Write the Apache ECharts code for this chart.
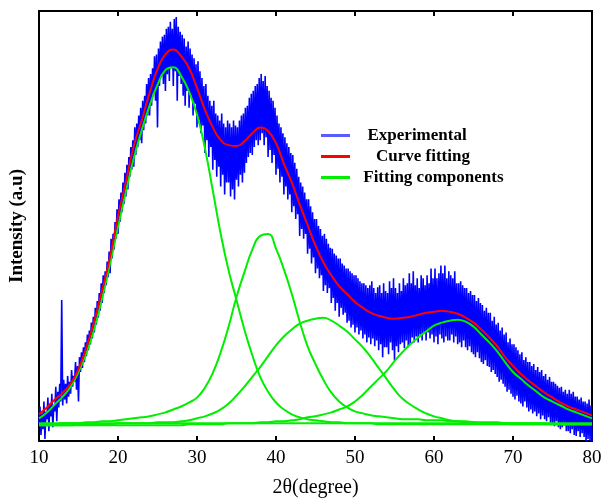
<!DOCTYPE html>
<html>
<head>
<meta charset="utf-8">
<script src="https://cdn.jsdelivr.net/npm/echarts@6/dist/echarts.min.js"></script>
<style>html,body{margin:0;padding:0;background:#fff}#c{width:606px;height:503px}</style>
</head>
<body>
<div id="c"></div>
<script>
// x ticks
const xTicks = [10, 20, 30, 40, 50, 60, 70, 80];
// fitted curves sampled each degree
const curveX = [10,11,12,13,14,15,16,17,18,19,20,21,22,23,24,25,26,27,28,29,30,31,32,33,34,35,36,37,38,39,40,41,42,43,44,45,46,47,48,49,50,51,52,53,54,55,56,57,58,59,60,61,62,63,64,65,66,67,68,69,70,71,72,73,74,75,76,77,78,79,80];
const curveFit = [27,34,42,49,58,73,95,122,153,187,228,263,299,325,353,377,392,397,390,378,358,336,318,305,300,299,304,312,318,314,302,281,262,240,219,198,181,168,157,149,141,135,130,127,125,124,125,126,128,130,131,132,131,129,125,120,113,105,96,85,76,68,61,55,49,44,39,35,32,29,26];
const comp1 = [23,29,37,45,55,70,89,114,145,180,217,253,287,315,340,361,376,379,370,354,331,297,254,210,173,143,113,87,65,50,39,32,27,24,22,21,20,19,19,18,18,18,18,17,17,17,17,17,17,17,17,17,17,17,17,17,17,17,17,17,17,17,17,17,17,17,17,17,17,17,17];
const comp2 = [17,17,17,18,18,18,19,19,20,20,21,22,23,24,25,27,29,32,35,39,44,54,69,90,116,146,171,194,208,210,195,174,149,121,96,78,62,49,40,34,30,28,26,25,24,23,22,22,22,21,21,21,20,20,20,19,19,19,19,18,18,18,18,18,18,17,17,17,17,17,17];
const comp3 = [16,16,16,16,16,17,17,17,17,17,18,18,18,18,18,19,19,19,20,21,23,25,28,32,38,46,55,65,75,86,97,106,113,119,122,124,125,122,117,111,103,95,85,74,63,52,43,37,32,28,25,23,21,20,19,19,18,18,18,18,17,17,17,17,17,17,17,17,17,17,17];
const comp4 = [16,16,16,16,16,16,16,16,16,16,16,16,16,16,16,16,16,16,16,17,17,17,17,17,18,18,18,18,19,19,20,20,21,22,24,25,27,29,32,35,40,47,55,63,71,81,90,98,105,111,117,120,122,123,121,116,108,100,91,80,70,63,56,50,44,40,36,32,29,26,23];
const baseX = [10, 80];
const baseY = [18, 18];
// experimental pattern sampled every 0.125 degree from 10 to 80
const expStart = 10, expStep = 0.125;
const experimental = [
18,35,6,28,12,40,2,30, 22,44,10,38,25,48,14,36, 30,55,20,50,34,58,40,143, 36,62,42,58,38,66,45,60,
48,72,55,66,60,80,52,76, 40,85,70,90,74,95,80,100, 86,108,92,112,98,120,104,126, 110,135,118,142,125,150,132,160,
140,168,150,172,158,182,166,192, 170,205,185,210,194,222,205,235, 210,245,222,252,232,262,240,272, 248,280,255,288,268,298,275,305,
278,318,290,322,298,330,305,338, 302,345,315,350,322,362,330,368, 330,372,340,378,352,390,345,392, 318,398,360,405,370,410,362,412,
355,418,372,420,365,425,378,418, 360,428,375,430,345,420,370,415, 362,412,350,408,340,400,355,405, 338,398,350,392,330,388,342,382,
318,385,325,375,312,368,320,360, 292,362,305,350,288,345,298,340, 275,345,285,332,268,330,278,325, 258,332,270,322,250,318,262,325,
262,322,248,318,255,325,245,320, 265,318,258,325,270,330,262,332, 272,338,282,340,288,348,292,352, 290,355,298,360,305,362,300,368,
305,372,312,365,300,370,308,360, 288,355,295,348,282,345,290,338, 270,330,276,322,262,318,268,312, 250,308,258,302,245,298,250,292,
232,290,238,282,225,276,230,268, 208,262,215,258,205,252,210,245, 190,245,195,238,180,232,186,225, 170,225,175,218,165,215,168,208,
152,210,158,205,150,200,155,196, 140,195,145,190,132,188,140,185, 126,185,135,180,128,178,130,175, 120,175,122,172,115,170,118,168,
110,168,115,165,108,162,112,160, 104,160,108,158,100,155,105,158, 98,162,104,155,96,150,102,156, 92,158,98,150,85,160,95,152,
95,150,88,162,100,155,92,165, 82,155,96,150,90,160,98,152, 100,165,94,158,102,160,95,170, 98,160,105,172,100,158,106,165,
100,155,108,168,102,165,110,158, 102,168,110,160,104,175,108,165, 100,175,106,165,98,170,108,178, 104,170,100,178,106,165,102,172,
102,168,108,165,100,172,106,160, 98,160,100,162,95,158,102,155, 95,155,92,150,96,152,90,148, 88,148,85,142,90,145,84,140,
80,138,78,132,82,135,76,130, 75,130,70,122,72,126,68,118, 65,120,60,112,62,115,58,108, 55,110,50,100,52,104,48,98,
45,98,42,95,46,92,40,88, 38,90,35,82,40,85,34,80, 30,80,32,76,28,78,30,72, 25,75,28,70,22,72,26,66,
22,68,20,62,24,65,18,60, 18,60,15,58,20,56,14,54, 12,55,14,50,16,52,10,48, 10,52,8,48,12,50,6,45,
5,45,10,42,4,44,8,40, 4,40,0,38,2,42,0,36,
0];

const pairs = (xs, ys) => ys.map((v, i) => [xs[i], v]);
const expData = experimental.map((v, i) => [expStart + i * expStep, v]);

const serif = "'Liberation Serif', 'Times New Roman', serif";
const chart = echarts.init(document.getElementById('c'), null, {renderer: 'canvas'});
const green = '#00ee00';
function comp(data) {
  return {name: 'Fitting components', type: 'line', data: data, showSymbol: false, smooth: 0.5,
    lineStyle: {color: green, width: 2}, itemStyle: {color: green}, z: 3};
}
chart.setOption({
  animation: false,
  backgroundColor: '#fff',
  grid: {left: 38, right: 14, top: 11, bottom: 56, show: true, borderColor: '#000', borderWidth: 2, backgroundColor: 'transparent'},
  legend: {
    orient: 'vertical', left: 316, top: 122, itemWidth: 29, itemHeight: 3, itemGap: 4, icon: 'rect',
    data: [
      {name: 'Experimental', itemStyle: {color: '#5a5aff'}},
      {name: 'Curve fitting', itemStyle: {color: '#ff0000'}},
      {name: 'Fitting components', itemStyle: {color: green}}
    ],
    formatter: function (n) { return n === 'Experimental' ? '  ' + n : (n === 'Curve fitting' ? '    ' + n : ' ' + n); },
    textStyle: {fontFamily: serif, fontWeight: 'bold', fontSize: 17, lineHeight: 17, color: '#000', padding: [0, 0, 0, 4]}
  },
  xAxis: [{
    type: 'value', min: 10, max: 80, interval: 10, position: 'bottom',
    name: '2θ(degree)', nameLocation: 'middle', nameGap: 37,
    nameTextStyle: {fontFamily: serif, fontSize: 20, color: '#000'},
    axisLine: {show: true, lineStyle: {color: '#000', width: 2}},
    axisTick: {show: true, inside: true, length: 5, lineStyle: {color: '#000', width: 2}},
    axisLabel: {fontFamily: serif, fontSize: 19, color: '#000', margin: 8, customValues: xTicks},
    splitLine: {show: false}
  }, {
    type: 'value', min: 10, max: 80, interval: 10, position: 'top',
    axisLine: {show: true, lineStyle: {color: '#000', width: 2}},
    axisTick: {show: true, inside: true, length: 5, lineStyle: {color: '#000', width: 2}},
    axisLabel: {show: false}, splitLine: {show: false}
  }],
  yAxis: {
    type: 'value', min: 0, max: 436,
    name: 'Intensity (a.u)', nameLocation: 'middle', nameGap: 12,
    nameTextStyle: {fontFamily: serif, fontSize: 19, fontWeight: 'bold', color: '#000'},
    axisLine: {show: true, lineStyle: {color: '#000', width: 2}},
    axisTick: {show: false}, axisLabel: {show: false}, splitLine: {show: false}
  },
  series: [
    {name: 'Experimental', type: 'line', data: expData, showSymbol: false, sampling: null,
      lineStyle: {color: '#0000ff', width: 1.6}, itemStyle: {color: '#0000ff'}, z: 2},
    comp(pairs(baseX, baseY)),
    comp(pairs(curveX, comp1)),
    comp(pairs(curveX, comp2)),
    comp(pairs(curveX, comp3)),
    comp(pairs(curveX, comp4)),
    {name: 'Curve fitting', type: 'line', data: pairs(curveX, curveFit), showSymbol: false, smooth: 0.5,
      lineStyle: {color: '#ff0000', width: 2}, itemStyle: {color: '#ff0000'}, z: 4}
  ]
});
</script>
</body>
</html>
